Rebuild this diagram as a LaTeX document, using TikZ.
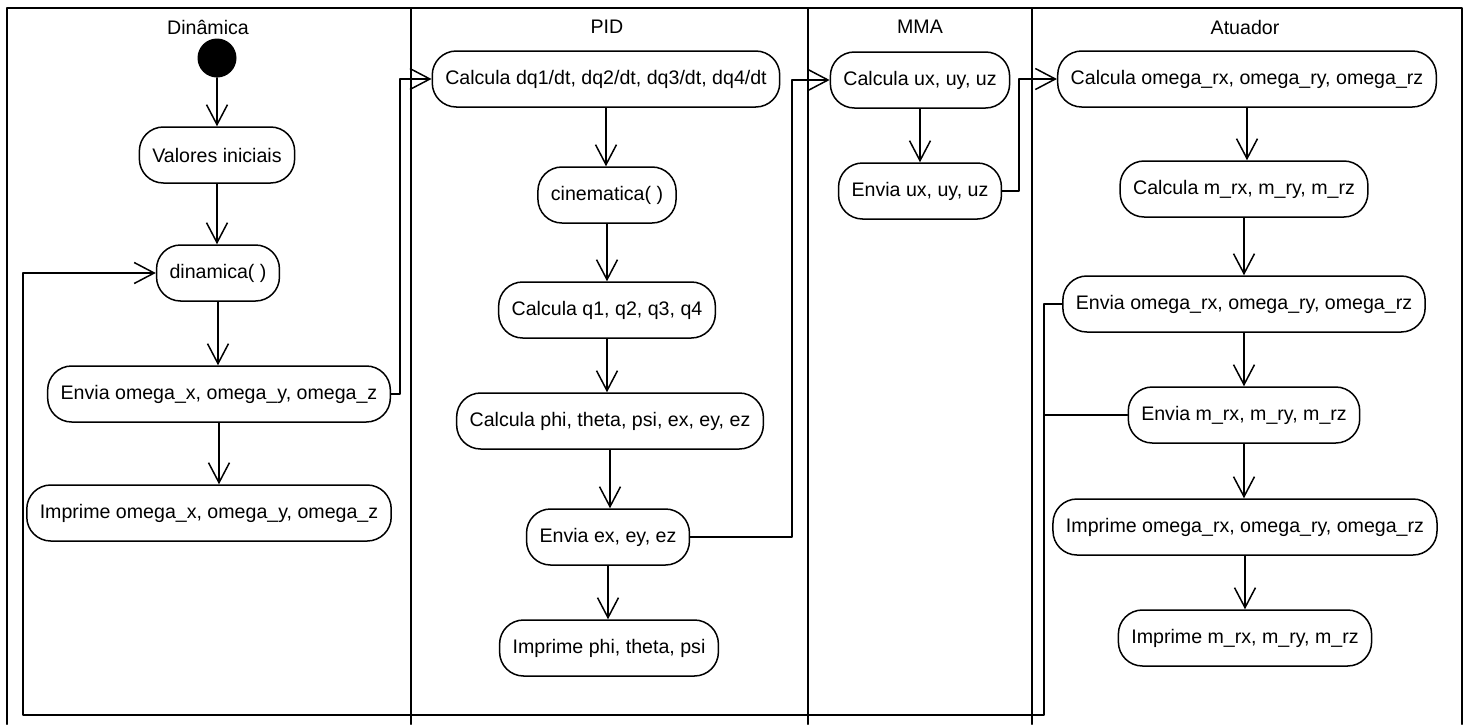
\documentclass[tikz,border=0pt]{standalone}
\usepackage{fontspec}
\setmainfont{Liberation Sans}
\usetikzlibrary{arrows.meta}

\begin{document}
\begin{tikzpicture}[x=0.5pt,y=-0.5pt,line cap=round,line join=round,
  font=\fontsize{9.8}{11.5}\selectfont,
  act/.style={draw,line width=0.75pt,rounded corners=12pt,minimum height=28pt,inner xsep=6.5pt},
  flow/.style={line width=0.75pt,-{Straight Barb[length=10pt,width=10.5pt,line width=0.75pt]}},
  wire/.style={line width=0.75pt}]
\useasboundingbox (0,0) rectangle (1468,724);
\draw[line width=1pt] (7,724)--(7,8)--(1462,8)--(1462,724);
\foreach \x in {411,808,1032}
  \draw[line width=1pt] (\x,8)--(\x,724);
\node (tdin) at (208,27) {Dinâmica};
\node (tpid) at (607,27) {PID};
\node (tmma) at (920,27) {MMA};
\node (tatu) at (1245,27) {Atuador};
\node[circle,fill,minimum size=19.5pt,inner sep=0pt] (ini) at (217,58) {};
\node[act] (valores) at (217,155) {Valores iniciais};
\node[act] (dinamica) at (218,273) {dinamica( )};
\node[act] (envx) at (219,394) {Envia omega\_x, omega\_y, omega\_z};
\node[act] (impx) at (209,513) {Imprime omega\_x, omega\_y, omega\_z};
\node[act] (dq) at (606,79) {Calcula dq1/dt, dq2/dt, dq3/dt, dq4/dt};
\node[act] (cine) at (607,195) {cinematica( )};
\node[act] (calcq) at (607,310) {Calcula q1, q2, q3, q4};
\node[act] (calcphi) at (610,421) {Calcula phi, theta, psi, ex, ey, ez};
\node[act] (enve) at (608,537) {Envia ex, ey, ez};
\node[act] (impphi) at (609,648) {Imprime phi, theta, psi};
\node[act] (calcu) at (920,80) {Calcula ux, uy, uz};
\node[act] (envu) at (920,191) {Envia ux, uy, uz};
\node[act] (calcorx) at (1247,79) {Calcula omega\_rx, omega\_ry, omega\_rz};
\node[act] (calcmr) at (1244,189) {Calcula m\_rx, m\_ry, m\_rz};
\node[act] (envorx) at (1244,304) {Envia omega\_rx, omega\_ry, omega\_rz};
\node[act] (envmr) at (1244,415) {Envia m\_rx, m\_ry, m\_rz};
\node[act] (imporx) at (1245,527) {Imprime omega\_rx, omega\_ry, omega\_rz};
\node[act] (impmr) at (1245,638) {Imprime m\_rx, m\_ry, m\_rz};
\draw[flow] (ini.south)--(ini.south |- valores.north);
\draw[flow] (valores.south)--(valores.south |- dinamica.north);
\draw[flow] (dinamica.south)--(dinamica.south |- envx.north);
\draw[flow] (envx.south)--(envx.south |- impx.north);
\draw[flow] (dq.south)--(dq.south |- cine.north);
\draw[flow] (cine.south)--(cine.south |- calcq.north);
\draw[flow] (calcq.south)--(calcq.south |- calcphi.north);
\draw[flow] (calcphi.south)--(calcphi.south |- enve.north);
\draw[flow] (enve.south)--(enve.south |- impphi.north);
\draw[flow] (calcu.south)--(calcu.south |- envu.north);
\draw[flow] (calcorx.south)--(calcorx.south |- calcmr.north);
\draw[flow] (calcmr.south)--(calcmr.south |- envorx.north);
\draw[flow] (envorx.south)--(envorx.south |- envmr.north);
\draw[flow] (envmr.south)--(envmr.south |- imporx.north);
\draw[flow] (imporx.south)--(imporx.south |- impmr.north);
\draw[flow] (envx.east)--++(9,0) |- (dq.west);
\draw[flow] (enve.east)--++(102,0) |- (calcu.west);
\draw[flow] (envu.east)--++(17,0) |- (calcorx.west);
\coordinate (bus) at (1044,715);
\coordinate (ret) at (23,715);
\draw[flow] (envorx.west) -| (bus)--(ret) |- (dinamica.west);
\draw[wire] (envmr.west)--(envmr.west -| bus);
\end{tikzpicture}
\end{document}
